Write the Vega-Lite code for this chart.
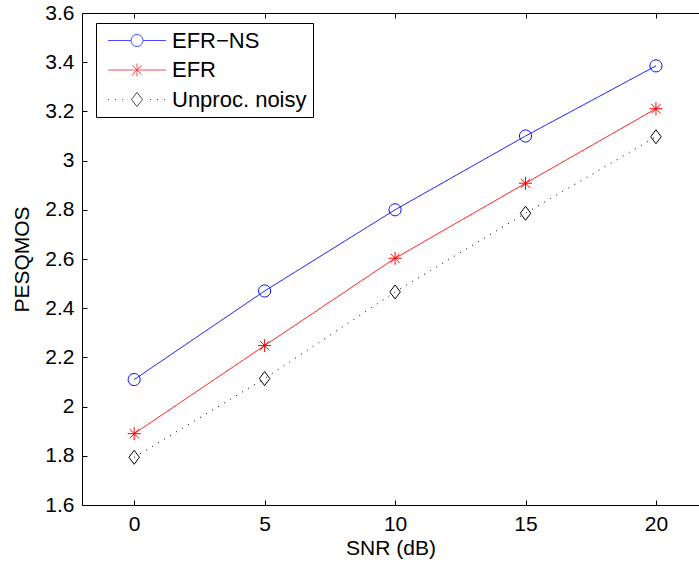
{
  "$schema": "https://vega.github.io/schema/vega-lite/v6.json",
  "width": 617,
  "height": 492,
  "autosize": "none",
  "padding": {"left": 82, "top": 13, "right": 0, "bottom": 64},
  "background": "white",
  "config": {
    "view": {"stroke": null},
    "font": "Liberation Sans",
    "axis": {
      "grid": false,
      "domainColor": "black",
      "domainWidth": 1,
      "tickColor": "black",
      "tickWidth": 1,
      "tickSize": -5,
      "labelColor": "black",
      "labelFontSize": 21,
      "labelFont": "Liberation Sans",
      "titleColor": "black",
      "titleFont": "Liberation Sans",
      "titleFontSize": 21,
      "titleFontWeight": "normal"
    }
  },
  "data": {
    "values": [
      {"snr": 0, "pesq": 2.11, "series": "EFR−NS"},
      {"snr": 5, "pesq": 2.47, "series": "EFR−NS"},
      {"snr": 10, "pesq": 2.80, "series": "EFR−NS"},
      {"snr": 15, "pesq": 3.10, "series": "EFR−NS"},
      {"snr": 20, "pesq": 3.385, "series": "EFR−NS"},
      {"snr": 0, "pesq": 1.89, "series": "EFR"},
      {"snr": 5, "pesq": 2.248, "series": "EFR"},
      {"snr": 10, "pesq": 2.603, "series": "EFR"},
      {"snr": 15, "pesq": 2.908, "series": "EFR"},
      {"snr": 20, "pesq": 3.211, "series": "EFR"},
      {"snr": 0, "pesq": 1.794, "series": "Unproc. noisy"},
      {"snr": 5, "pesq": 2.114, "series": "Unproc. noisy"},
      {"snr": 10, "pesq": 2.466, "series": "Unproc. noisy"},
      {"snr": 15, "pesq": 2.786, "series": "Unproc. noisy"},
      {"snr": 20, "pesq": 3.097, "series": "Unproc. noisy"}
    ]
  },
  "layer": [
    {
      "mark": {"type": "line", "strokeWidth": 1},
      "encoding": {
        "x": {
          "field": "snr", "type": "quantitative",
          "scale": {"domain": [-2, 21.65], "nice": false, "zero": false},
          "axis": {"values": [0, 5, 10, 15, 20], "title": "SNR (dB)", "labelPadding": 13, "titlePadding": 3}
        },
        "y": {
          "field": "pesq", "type": "quantitative",
          "scale": {"domain": [1.6, 3.6], "nice": false, "zero": false},
          "axis": {"values": [1.6, 1.8, 2, 2.2, 2.4, 2.6, 2.8, 3, 3.2, 3.4, 3.6], "format": "~g", "title": "PESQMOS", "labelPadding": 13, "titlePadding": 12}
        },
        "color": {
          "field": "series", "type": "nominal",
          "scale": {"domain": ["EFR−NS", "EFR", "Unproc. noisy"], "range": ["#0000ff", "#ff0000", "#000000"]},
          "legend": null
        },
        "strokeDash": {
          "field": "series", "type": "nominal",
          "scale": {"domain": ["EFR−NS", "EFR", "Unproc. noisy"], "range": [[1, 0], [1, 0], [1, 6]]},
          "legend": null
        }
      }
    },
    {
      "mark": {"type": "point", "filled": false, "strokeWidth": 1, "size": 196, "opacity": 1},
      "encoding": {
        "x": {"field": "snr", "type": "quantitative", "axis": null},
        "y": {"field": "pesq", "type": "quantitative"},
        "color": {
          "field": "series", "type": "nominal",
          "scale": {"domain": ["EFR−NS", "EFR", "Unproc. noisy"], "range": ["#0000ff", "#ff0000", "#000000"]},
          "legend": null
        },
        "shape": {
          "field": "series", "type": "nominal",
          "scale": {
            "domain": ["EFR−NS", "EFR", "Unproc. noisy"],
            "range": [
              "M0.86,0A0.86,0.86 0 1,1 -0.86,0A0.86,0.86 0 1,1 0.86,0Z",
              "M-0.93,0L0.93,0M0,-0.93L0,0.93M-0.66,-0.66L0.66,0.66M-0.66,0.66L0.66,-0.66",
              "M0,-1L0.75,0L0,1L-0.75,0Z"
            ]
          },
          "legend": null
        }
      }
    },
    {
      "transform": [{"filter": {"field": "series", "equal": "none"}}],
      "mark": {"type": "point", "filled": false, "strokeWidth": 1},
      "encoding": {
        "x": {
          "field": "snr", "type": "quantitative",
          "axis": {"orient": "top", "values": [0, 5, 10, 15, 20], "labels": false, "title": null}
        },
        "y": {"field": "pesq", "type": "quantitative"},
        "shape": {
          "field": "series", "type": "nominal",
          "scale": {
            "domain": ["EFR−NS", "EFR", "Unproc. noisy"],
            "range": [
              "M-2.64,0H-0.545M0.545,0H2.64M0.545,0A0.545,0.545 0 1,1 -0.545,0A0.545,0.545 0 1,1 0.545,0Z",
              "M-2.64,0H2.64M0,-0.59V0.59M-0.42,-0.42L0.42,0.42M-0.42,0.42L0.42,-0.42",
              "M-2.64,0h0.1M-2.0,0h0.1M-1.36,0h0.1M1.18,0h0.1M1.82,0h0.1M2.45,0h0.1M0,-0.64L0.5,0L0,0.64L-0.5,0Z"
            ]
          },
          "legend": {
            "title": null, "orient": "none", "legendX": 14, "legendY": 10,
            "fillColor": "white", "strokeColor": "black", "padding": 6, "cornerRadius": 0,
            "symbolSize": 484, "symbolStrokeWidth": 1, "symbolOffset": 23.5, "labelOffset": 23.5,
            "labelFontSize": 22, "labelFont": "Liberation Sans", "labelColor": "black", "rowPadding": 6.5
          }
        },
        "color": {
          "field": "series", "type": "nominal",
          "scale": {"domain": ["EFR−NS", "EFR", "Unproc. noisy"], "range": ["#0000ff", "#ff0000", "#000000"]},
          "legend": {
            "title": null, "orient": "none", "legendX": 14, "legendY": 10,
            "fillColor": "white", "strokeColor": "black", "padding": 6, "cornerRadius": 0,
            "symbolSize": 484, "symbolStrokeWidth": 1, "symbolOffset": 23.5, "labelOffset": 23.5,
            "labelFontSize": 22, "labelFont": "Liberation Sans", "labelColor": "black", "rowPadding": 6.5
          }
        }
      }
    }
  ],
  "resolve": {"scale": {"shape": "independent", "color": "independent"}, "axis": {"x": "independent"}}
}
